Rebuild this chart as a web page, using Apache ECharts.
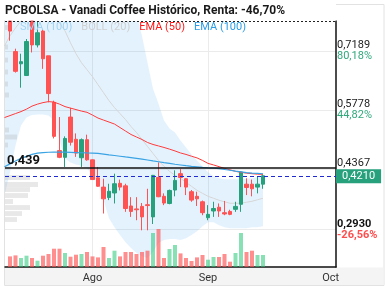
<!DOCTYPE html>
<html><head><meta charset="utf-8">
<script src="https://cdn.jsdelivr.net/npm/echarts@6/dist/echarts.min.js"></script>
<style>html,body{margin:0;padding:0;background:#fff}#c{width:389px;height:290px}</style>
</head><body><div id="c"></div>
<script>
// ---- candle data (index 0..46) ----
const opens  = [0.790,0.717,0.688,0.660,0.790,0.733,0.766,0.707,0.596,0.481,0.465,0.561,0.508,0.464,0.507,0.459,0.416,0.394,0.369,0.380,0.403,0.397,0.349,0.342,0.348,0.352,0.323,0.417,0.372,0.355,0.387,0.426,0.414,0.383,0.372,0.359,0.321,0.337,0.346,0.333,0.336,0.341,0.353,0.401,0.401,0.394,0.401];
const closes = [0.766,0.670,0.693,0.741,0.733,0.762,0.700,0.617,0.515,0.465,0.510,0.501,0.475,0.507,0.459,0.412,0.396,0.366,0.384,0.402,0.394,0.343,0.336,0.340,0.323,0.350,0.422,0.371,0.356,0.386,0.410,0.417,0.394,0.363,0.366,0.333,0.329,0.343,0.337,0.330,0.329,0.348,0.430,0.393,0.390,0.401,0.421];
const lows   = [0.743,0.667,0.631,0.660,0.715,0.727,0.676,0.596,0.510,0.463,0.442,0.493,0.466,0.442,0.457,0.411,0.395,0.331,0.363,0.355,0.386,0.335,0.323,0.315,0.291,0.291,0.306,0.370,0.351,0.353,0.372,0.394,0.375,0.359,0.349,0.327,0.315,0.323,0.323,0.327,0.327,0.335,0.335,0.375,0.372,0.379,0.390];
const highs  = [0.790,0.724,0.712,0.747,0.790,0.790,0.771,0.707,0.600,0.561,0.515,0.583,0.522,0.510,0.519,0.460,0.442,0.414,0.402,0.426,0.412,0.402,0.370,0.370,0.356,0.390,0.423,0.453,0.379,0.388,0.434,0.437,0.415,0.387,0.383,0.362,0.351,0.359,0.355,0.361,0.340,0.359,0.431,0.415,0.412,0.420,0.424];
const volumes = [10.6,11.6,9,11.3,9,6.3,11.3,13,18.3,18.3,14,10.3,12.3,13,15,10.6,9.6,20,9,16.3,10.6,15,15,13,15,16.3,34,38,9,18,22,13.6,9,6,9.6,12,7.3,10,10,13,5.3,14,34,15,16.3,12,12];

// ---- indicators (index -1..46) ----
const ema50 = [0.5598,0.5645,0.5693,0.5740,0.5799,0.5871,0.5918,0.5954,0.5978,0.5966,0.5918,0.5859,0.5823,0.5788,0.5752,0.5723,0.5657,0.5586,0.5538,0.5491,0.5443,0.5360,0.5277,0.5194,0.5134,0.5075,0.5004,0.4956,0.4921,0.4885,0.4845,0.4802,0.4754,0.4719,0.4676,0.4636,0.4576,0.4505,0.4469,0.4427,0.4386,0.4351,0.4315,0.4291,0.4272,0.4260,0.4248,0.4244];
const ema100 = [0.4427,0.4493,0.4564,0.4624,0.4671,0.4719,0.4750,0.4761,0.4771,0.4773,0.4773,0.4773,0.4769,0.4764,0.4759,0.4754,0.4750,0.4742,0.4726,0.4709,0.4693,0.4676,0.4659,0.4643,0.4624,0.4605,0.4586,0.4564,0.4545,0.4524,0.4505,0.4484,0.4467,0.4450,0.4436,0.4424,0.4410,0.4400,0.4391,0.4379,0.4360,0.4341,0.4322,0.4305,0.4286,0.4272,0.4265,0.4258];
const bollMid = [0.7308,0.7545,0.7735,0.7902,0.8020,0.8139,0.8187,0.8187,0.8139,0.8020,0.7854,0.7664,0.7379,0.7118,0.6904,0.6738,0.6571,0.6381,0.6191,0.6001,0.5835,0.5693,0.5550,0.5384,0.5241,0.5075,0.4909,0.4742,0.4576,0.4434,0.4315,0.4220,0.4149,0.4054,0.3959,0.3864,0.3792,0.3721,0.3674,0.3626,0.3590,0.3555,0.3555,0.3555,0.3579,0.3602,0.3638,0.3674];
const bollUpper = [1.087,1.080,1.054,1.040,1.044,1.062,1.071,1.071,1.063,1.051,1.066,1.070,1.023,0.976,0.935,0.909,0.892,0.873,0.876,0.880,0.869,0.859,0.847,0.828,0.805,0.7545,0.6904,0.6286,0.5930,0.5526,0.5336,0.5241,0.5051,0.4885,0.4719,0.4576,0.4434,0.4291,0.4196,0.4149,0.4125,0.4125,0.4125,0.4125,0.4137,0.4149,0.4172,0.4196];
const bollLower = [0.3745,0.4291,0.4932,0.5408,0.5598,0.5657,0.5669,0.5669,0.5645,0.5526,0.5051,0.4624,0.4529,0.4481,0.4457,0.4386,0.4220,0.4030,0.3626,0.3199,0.2985,0.2795,0.2628,0.2486,0.2367,0.2296,0.2248,0.2391,0.2605,0.2676,0.2700,0.2700,0.2676,0.2723,0.2795,0.2890,0.3008,0.3103,0.3103,0.3032,0.2985,0.2961,0.2961,0.2961,0.2961,0.2985,0.2985,0.3008];

// ---- volume profile (price level, length) ----
const profilePrices = [0.7745,0.7280,0.6970,0.6684,0.6398,0.6136,0.5301,0.5134,0.4943,0.4168,0.4002,0.3882,0.3739,0.3596,0.3453,0.3310,0.3167];
const profileSizes  = [3,3,3,3,3,4,4,12,3,25,33,25,23,8,25,17,12];

// ---- axes / labels ----
const priceTicks = [0.7189,0.5778,0.4367,0.2930];
const pctLabels = ['80,18%','44,82%','','-26,56%'];
const monthIdx = [15,36,58.3];
const monthLabels = ['Ago','Sep','Oct'];
const gridIdx = [15,36];
const refPrice = 0.439;
const lastPrice = 0.421;
const topPrice = 0.790;
const titleText = 'PCBOLSA - Vanadi Coffee Histórico, Renta: -46,70%';

const UP = '#26a17b', DOWN = '#ff5252';
const fmt4 = v => v.toFixed(4).replace('.', ',');
const withIdx = arr => arr.map((v,k) => [k-1, v]);

const chart = echarts.init(document.getElementById('c'));
const candleData = opens.map((o,i) => [i, o, closes[i], lows[i], highs[i]]);
const volData = volumes.map((v,i) => ({value:[i,v], itemStyle:{color: closes[i] >= opens[i] ? 'rgba(38,200,120,0.55)' : 'rgba(255,82,82,0.65)'}}));

chart.setOption({
  animation: false,
  textStyle: {fontFamily: 'Roboto, sans-serif'},
  title: {text: titleText, left: 5, top: 5, padding: 0,
    textStyle: {fontSize: 12, fontWeight: 'bold', color: '#1a1a1a'}},
  legend: {left: 15, top: 22, padding: 0, itemWidth: 0, itemHeight: 0, itemGap: 4, icon: 'none', selectedMode: false, z: 5,
    textStyle: {fontSize: 11},
    data: [
      {name: 'SMA (100)', textStyle: {color: '#a3d5f3'}},
      {name: 'BOLL (20)', textStyle: {color: '#d0d0d0'}},
      {name: 'EMA (50)', textStyle: {color: '#ff1a1a'}},
      {name: 'EMA (100)', textStyle: {color: '#2a9ee6'}}
    ]},
  graphic: [
    {type: 'rect', z: -1, silent: true, shape: {x: 4.5, y: 4.5, width: 379.5, height: 281}, style: {fill: null, stroke: '#e2e2e2', lineWidth: 1}},
    {type: 'rect', z: -1, silent: true, shape: {x: 5, y: 267.5, width: 378.5, height: 17.5}, style: {fill: '#f4f4f4'}},
    {type: 'rect', z: 1, silent: true, shape: {x: 0, y: 0, width: 336, height: 20.5}, style: {fill: '#fff'}}
  ],
  grid: {left: 5, right: 53, top: 21, bottom: 23},
  xAxis: [
    {type: 'value', min: -0.909, max: 59.27, gridIndex: 0,
      axisLine: {show: true, onZero: false, lineStyle: {color: '#111', width: 1.5}},
      axisTick: {show: false, customValues: gridIdx},
      splitLine: {show: true, lineStyle: {color: '#ebebeb', width: 1}},
      axisLabel: {customValues: monthIdx, margin: 6, fontSize: 11, color: '#333',
        formatter: v => { const k = monthIdx.findIndex(m => Math.abs(m - v) < 1e-6); return k >= 0 ? monthLabels[k] : ''; }}},
    {type: 'value', min: 0, max: 331, gridIndex: 0, show: false}
  ],
  yAxis: [
    {type: 'value', position: 'right', min: 0.2035, max: topPrice, gridIndex: 0,
      axisLine: {show: true, onZero: false, lineStyle: {color: '#111', width: 1.5}},
      axisTick: {show: false, customValues: priceTicks},
      splitLine: {show: true, lineStyle: {color: '#ebebeb', width: 1}},
      axisLabel: {customValues: priceTicks, margin: 1, align: 'left',
        formatter: v => {
          const k = priceTicks.findIndex(t => Math.abs(t - v) < 1e-6);
          if (k < 0) return '';
          const p = pctLabels[k];
          if (p.charAt(0) === '-') return '{pb|' + fmt4(v) + '}\n{r|' + p + '}';
          return '{p|' + fmt4(v) + '}\n{g|' + (p || ' ') + '}';
        },
        rich: {
          p: {fontSize: 11, color: '#222', lineHeight: 11},
          g: {fontSize: 11, color: '#2fa97c', lineHeight: 11},
          pb: {fontSize: 11, color: '#111', fontWeight: 'bold', lineHeight: 11},
          r: {fontSize: 11, color: '#ff4d4d', fontWeight: 'bold', lineHeight: 11}
        }}},
    {type: 'value', min: 0, max: 246, gridIndex: 0, show: false, axisLine: {onZero: false}}
  ],
  series: [
    {type: 'custom', name: 'bollBand', xAxisIndex: 0, yAxisIndex: 0, clip: true, silent: true, z: 1,
      data: bollUpper.map((u,k) => [k-1, u, bollLower[k]]),
      encode: {x: 0, y: [1,2]},
      renderItem: (params, api) => {
        if (params.dataIndex !== 0) return null;
        const pts = [];
        for (let k = 0; k < bollUpper.length; k++) pts.push(api.coord([k-1, bollUpper[k]]));
        for (let k = bollLower.length - 1; k >= 0; k--) pts.push(api.coord([k-1, bollLower[k]]));
        return {type: 'polygon', shape: {points: pts}, style: {fill: 'rgba(33,150,243,0.12)'}};
      }},
    {type: 'custom', name: 'profile', xAxisIndex: 1, yAxisIndex: 0, clip: true, silent: true, z: 1,
      data: profilePrices.map((p,k) => [profileSizes[k], p]),
      renderItem: (params, api) => {
        const len = api.value(0), p = api.value(1);
        const a = api.coord([0, p + 0.0058]);
        const b = api.coord([len, p - 0.0058]);
        return {type: 'rect', shape: {x: a[0], y: a[1], width: b[0]-a[0], height: b[1]-a[1]}, style: {fill: 'rgba(150,150,150,0.22)'}};
      }},
    {type: 'bar', name: 'Volumen', xAxisIndex: 0, yAxisIndex: 1, barWidth: 4, data: volData, z: 2, silent: true},
    {type: 'line', name: 'SMA (100)', data: [], symbol: 'none', lineStyle: {color: '#a3d5f3'}},
    {type: 'line', name: 'BOLL (20)', data: withIdx(bollMid), symbol: 'none', silent: true, z: 2,
      lineStyle: {color: '#d6d6d6', width: 1}, itemStyle: {color: '#d0d0d0'}},
    {type: 'candlestick', name: 'PCBOLSA', xAxisIndex: 0, yAxisIndex: 0, barWidth: 4, data: candleData, z: 3,
      itemStyle: {color: UP, color0: DOWN, borderColor: UP, borderColor0: DOWN, borderWidth: 1},
      markLine: {silent: true, symbol: ['none','none'], animation: false,
        data: [
          {yAxis: topPrice, lineStyle: {color: '#222', type: [2,2], width: 1}, label: {show: false}},
          {yAxis: refPrice, lineStyle: {color: '#111', type: 'solid', width: 1.5},
            label: {show: true, position: 'insideStartTop', formatter: refPrice.toFixed(3).replace('.', ','), fontSize: 13, fontWeight: 'bold', color: '#111', distance: [2, 1]}},
          {yAxis: lastPrice, lineStyle: {color: '#1f2bd0', type: [4,3], width: 1},
            label: {show: true, position: 'end', formatter: fmt4(lastPrice), backgroundColor: UP, color: '#fff', padding: [2,6,1,6], fontSize: 11, distance: 0}}
        ]}},
    {type: 'line', name: 'EMA (50)', data: withIdx(ema50), symbol: 'none', silent: true, z: 4,
      lineStyle: {color: '#ff3b3b', width: 1}, itemStyle: {color: '#ff1a1a'}},
    {type: 'line', name: 'EMA (100)', data: withIdx(ema100), symbol: 'none', silent: true, z: 4,
      lineStyle: {color: '#3aa3e3', width: 1.2}, itemStyle: {color: '#2a9ee6'}}
  ]
});
</script></body></html>
